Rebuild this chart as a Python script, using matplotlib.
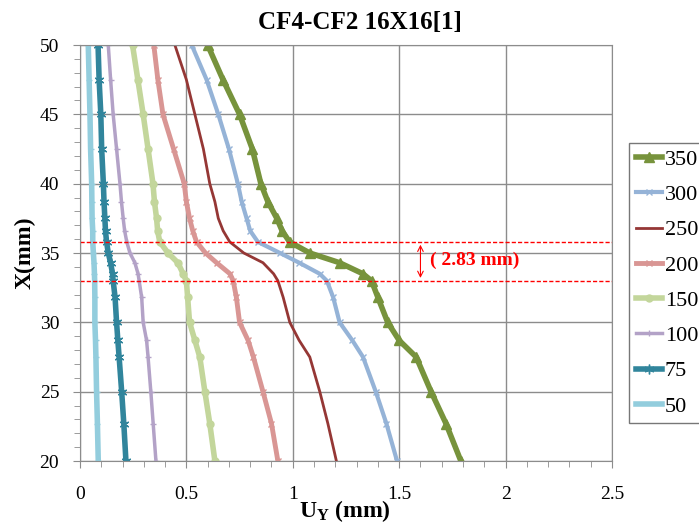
import numpy as np
import matplotlib
matplotlib.use("Agg")
import matplotlib.pyplot as plt
from matplotlib.ticker import MultipleLocator

plt.rcParams['font.family'] = ['Liberation Serif', 'DejaVu Serif']
plt.rcParams['mathtext.fontset'] = 'custom'
plt.rcParams['mathtext.rm'] = 'Liberation Serif'
plt.rcParams['mathtext.bf'] = 'Liberation Serif:bold'

# depth X (mm) where each curve was read
x_pos = [50, 47.5, 45, 42.5, 40, 38.7, 37.5, 36.6, 35.8, 35, 34.3, 33.5, 33, 31.8, 30, 28.7, 27.5, 25, 22.7, 20]

# displacement U_Y (mm) for each load case
u_350 = [0.60, 0.672, 0.75, 0.81, 0.85, 0.883, 0.925, 0.95, 0.985, 1.08, 1.22, 1.33, 1.37, 1.40, 1.446, 1.50, 1.58, 1.65, 1.72, 1.79]
u_300 = [0.525, 0.595, 0.65, 0.70, 0.742, 0.76, 0.783, 0.80, 0.836, 0.94, 1.03, 1.127, 1.16, 1.19, 1.22, 1.28, 1.33, 1.39, 1.44, 1.49]
u_250 = [0.446, 0.50, 0.54, 0.58, 0.61, 0.634, 0.65, 0.673, 0.704, 0.77, 0.86, 0.91, 0.93, 0.955, 0.986, 1.03, 1.08, 1.127, 1.165, 1.205]
u_200 = [0.347, 0.366, 0.39, 0.44, 0.49, 0.50, 0.515, 0.53, 0.548, 0.59, 0.642, 0.705, 0.72, 0.735, 0.75, 0.79, 0.815, 0.86, 0.90, 0.93]
u_150 = [0.247, 0.272, 0.297, 0.32, 0.343, 0.35, 0.36, 0.365, 0.375, 0.414, 0.46, 0.485, 0.50, 0.506, 0.515, 0.54, 0.563, 0.587, 0.61, 0.634]
u_100 = [0.133, 0.144, 0.156, 0.172, 0.188, 0.195, 0.203, 0.21, 0.22, 0.235, 0.258, 0.273, 0.278, 0.29, 0.297, 0.313, 0.32, 0.333, 0.344, 0.357]
u_75 = [0.085, 0.09, 0.098, 0.102, 0.11, 0.113, 0.117, 0.12, 0.125, 0.133, 0.144, 0.153, 0.156, 0.165, 0.172, 0.178, 0.184, 0.196, 0.206, 0.216]
u_50 = [0.039, 0.043, 0.047, 0.05, 0.055, 0.056, 0.057, 0.06, 0.06, 0.063, 0.066, 0.068, 0.069, 0.07, 0.07, 0.073, 0.075, 0.078, 0.082, 0.086]

labels = ['350', '300', '250', '200', '150', '100', '75', '50']
xtick_labels = ['0', '0.5', '1', '1.5', '2', '2.5']

# reference levels
x_top = 35.8
x_bot = 33.0
gap_text = '( 2.83 mm)'

fig = plt.figure(figsize=(6.99, 5.27), dpi=100)
ax = fig.add_axes([0.1144, 0.1252, 0.7611, 0.7894])

ax.plot(u_350, x_pos, color='#77933C', lw=4, marker='^', ms=7, label=labels[0])
ax.plot(u_300, x_pos, color='#95B3D7', lw=3, marker='x', ms=4, mew=1, label=labels[1])
ax.plot(u_250, x_pos, color='#953735', lw=2, label=labels[2])
ax.plot(u_200, x_pos, color='#D99694', lw=3.5, marker='x', ms=4, mew=1, label=labels[3])
ax.plot(u_150, x_pos, color='#C3D69B', lw=4, marker='o', ms=5, label=labels[4])
ax.plot(u_100, x_pos, color='#B3A2C7', lw=2.5, marker='+', ms=5, label=labels[5])
ax.plot(u_75, x_pos, color='#31859C', lw=4, marker=(6, 2, 0), ms=7, mew=1, label=labels[6])
ax.plot(u_50, x_pos, color='#93CDDD', lw=4, marker='_', ms=4, label=labels[7])

ax.axhline(x_top, color='red', lw=1, ls=(0, (3, 1.5)))
ax.axhline(x_bot, color='red', lw=1, ls=(0, (3, 1.5)))
ax.annotate('', xy=(1.6, x_bot), xytext=(1.6, x_top),
            arrowprops=dict(arrowstyle='<->', color='red', lw=0.8))
ax.text(1.645, (x_top + x_bot) / 2 + 0.1, gap_text, color='red', fontsize=14,
        fontweight='bold', va='center', ha='left')

ax.set_xlim(0, 2.5)
ax.set_ylim(20, 50)
ax.set_xticks(np.arange(0, 2.51, 0.5))
ax.set_xticklabels(xtick_labels)
ax.xaxis.set_minor_locator(MultipleLocator(0.1))
ax.yaxis.set_major_locator(MultipleLocator(5))
ax.yaxis.set_minor_locator(MultipleLocator(1))
ax.grid(True, which='major', color='#8C8C8C', lw=1)
ax.set_axisbelow(True)
for s in ax.spines.values():
    s.set_color('#8C8C8C')
ax.tick_params(which='both', direction='out', colors='#8C8C8C', labelcolor='black', labelsize=14)
ax.tick_params(which='major', length=5)
ax.tick_params(axis='x', which='major', pad=13)
ax.tick_params(axis='y', which='major', pad=10)
ax.tick_params(which='minor', length=4)

fig.text(360 / 699, 1 - 23 / 527, 'CF4-CF2 16X16[1]', fontsize=18, fontweight='bold',
         ha='center', va='center')
fig.text(345 / 699, 1 - 511 / 527, r'$\mathbf{U_Y}$' + ' (mm)', fontsize=17, fontweight='bold',
         ha='center', va='center')
fig.text(25 / 699, 1 - 253 / 527, 'X(mm)', fontsize=17, fontweight='bold',
         ha='center', va='center', rotation=90)

leg = fig.legend(loc='upper left', bbox_to_anchor=(0.9, 0.729), fontsize=16,
                 frameon=True, fancybox=False, edgecolor='#555555',
                 handlelength=1.2, handletextpad=0.1, labelspacing=0.66,
                 borderpad=0.3, borderaxespad=0)
leg.get_frame().set_linewidth(1)

fig.savefig('out.png', dpi=100)
